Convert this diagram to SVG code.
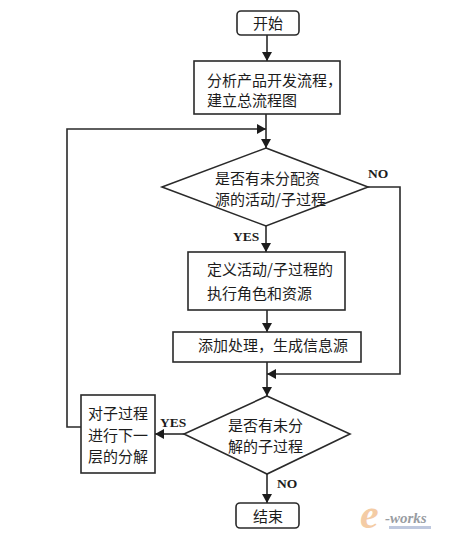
<svg xmlns="http://www.w3.org/2000/svg" width="453" height="540" viewBox="0 0 453 540">
<style>
.s{fill:#fff;stroke:#2a2a2a;stroke-width:1.6}
.c{fill:none;stroke:#2a2a2a;stroke-width:1.6}
text{font-family:"Noto Sans CJK SC","Liberation Serif",serif;font-size:15px;fill:#1c1c1c}
.e{font-family:"Liberation Serif",serif;font-weight:bold;font-size:13.5px}
</style>
<defs>
<marker id="a" markerUnits="userSpaceOnUse" markerWidth="10" markerHeight="10" refX="9" refY="5" orient="auto"><path d="M0 0L9 5L0 10Z" fill="#1c1c1c"/></marker>
</defs>
<rect width="453" height="540" fill="#fff"/>
<g id="connectors">
<path class="c" d="M267 35V61" marker-end="url(#a)"/>
<path class="c" d="M266 114V148" marker-end="url(#a)"/>
<path class="c" d="M81 427H67V129H266" marker-end="url(#a)"/>
<path class="c" d="M266 226V252" marker-end="url(#a)"/>
<path class="c" d="M267 310V332" marker-end="url(#a)"/>
<path class="c" d="M267 362V396" marker-end="url(#a)"/>
<path class="c" d="M368 187H400V374H267" marker-end="url(#a)"/>
<path class="c" d="M184 434H155" marker-end="url(#a)"/>
<path class="c" d="M267 474V503" marker-end="url(#a)"/>
<text class="e" x="368" y="178">NO</text>
<text class="e" x="233" y="241">YES</text>
<text class="e" x="160" y="427">YES</text>
<text class="e" x="277" y="488">NO</text>
</g>
<g id="start"><rect class="s" x="237" y="11" width="62" height="24" rx="4"/><text x="253" y="29">开始</text></g>
<g id="analyze"><rect class="s" x="194" y="61" width="146" height="53"/><text x="207" y="86">分析产品开发流程&#xFF0C;</text><text x="207" y="106">建立总流程图</text></g>
<g id="d1"><path class="s" d="M266 148L368 187L266 226L162 187Z"/><text x="215" y="184">是否有未分配资</text><text x="215" y="205">源的活动/子过程</text></g>
<g id="define"><rect class="s" x="188" y="252" width="157" height="58"/><text x="207" y="275">定义活动/子过程的</text><text x="207" y="299">执行角色和资源</text></g>
<g id="add"><rect class="s" x="173" y="332" width="188" height="30"/><text x="198" y="351">添加处理&#xFF0C;生成信息源</text></g>
<g id="d2"><path class="s" d="M267 396L350 434L267 474L184 434Z"/><text x="228" y="431">是否有未分</text><text x="228" y="452">解的子过程</text></g>
<g id="split"><rect class="s" x="81" y="395" width="74" height="78"/><text x="88" y="419">对子过程</text><text x="88" y="441">进行下一</text><text x="88" y="462">层的分解</text></g>
<g id="end"><rect class="s" x="236" y="503" width="63" height="25" rx="4"/><text x="253" y="522">结束</text></g>
<g id="watermark" opacity="0.8">
<text x="360" y="528" style="font-family:'Liberation Serif',serif;font-style:italic;font-weight:bold;font-size:42px;fill:#f2c08f">e</text>
<text x="385" y="523" style="font-family:'Liberation Serif',serif;font-style:italic;font-weight:bold;font-size:15px;fill:#7f858c">-works</text>
<rect x="389" y="526" width="42" height="3" fill="#aebbd6"/>
</g>
</svg>
